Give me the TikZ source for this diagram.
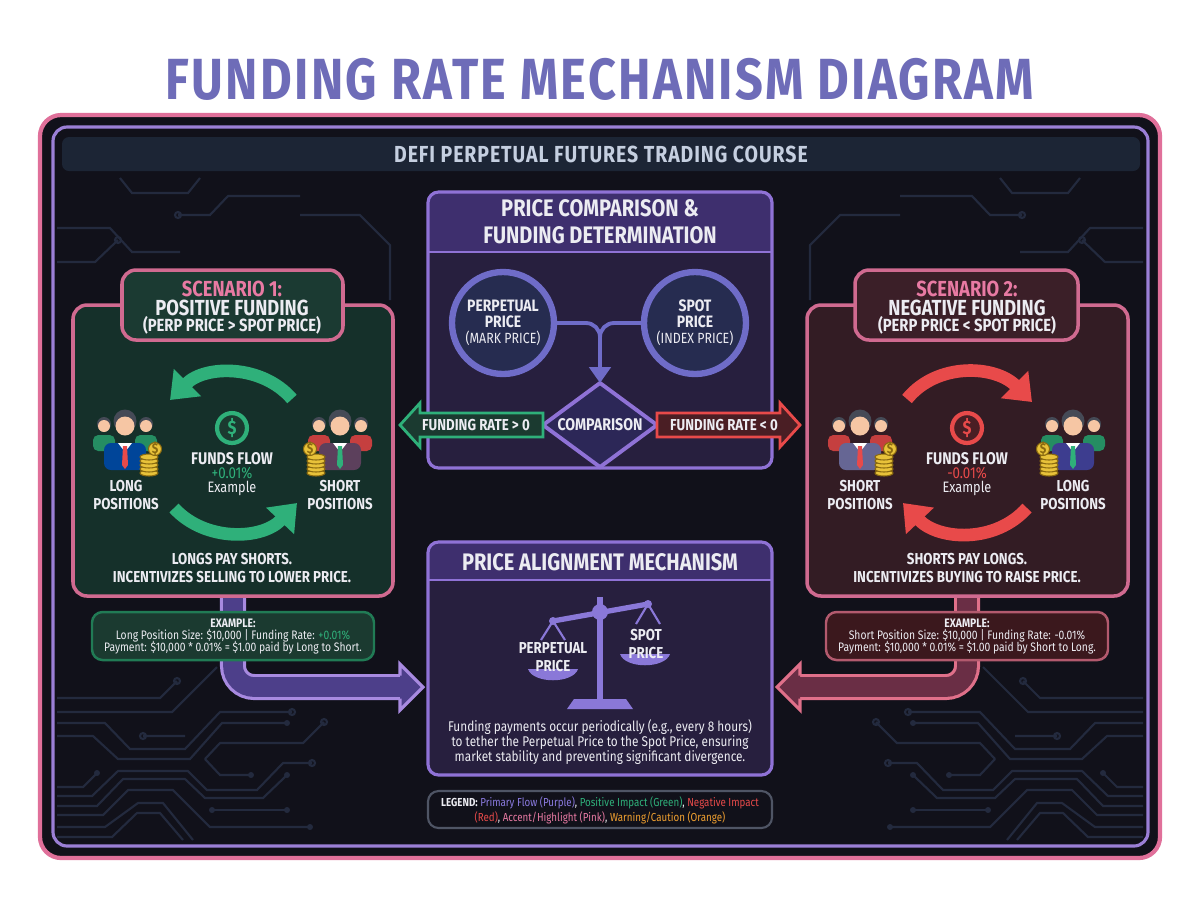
\documentclass[tikz,border=0pt]{standalone}
\usepackage{fontspec}
\setmainfont{Fira Sans}[FakeStretch=0.84]
\newfontfamily\titlefont{Fira Sans}[FakeStretch=0.84, LetterSpace=4]
\usetikzlibrary{arrows.meta}

\definecolor{frameink}{HTML}{11111A}
\definecolor{framepink}{HTML}{E0709A}
\definecolor{framepurple}{HTML}{9B7FD6}
\definecolor{barfill}{HTML}{1C2535}
\definecolor{bartext}{HTML}{C5CFE0}
\definecolor{titleblue}{HTML}{6E6CB8}
\definecolor{circuitline}{HTML}{232A3E}
\definecolor{cbhead}{HTML}{3E2F6E}
\definecolor{cbbody}{HTML}{271F3E}
\definecolor{cbline}{HTML}{8F72D6}
\definecolor{circfill}{HTML}{262C50}
\definecolor{circring}{HTML}{6F6CC8}
\definecolor{diafill}{HTML}{2C2757}
\definecolor{posgreen}{HTML}{2FB07A}
\definecolor{posfill}{HTML}{1B3A30}
\definecolor{negred}{HTML}{E84A4A}
\definecolor{negfill}{HTML}{4A1E24}
\definecolor{greenbg}{HTML}{15302A}
\definecolor{greentab}{HTML}{1B3A32}
\definecolor{redbg}{HTML}{331C24}
\definecolor{redtab}{HTML}{3B1F28}
\definecolor{accentpink}{HTML}{E87AA3}
\definecolor{boxpink}{HTML}{D06A90}
\definecolor{bandpurple}{HTML}{4D3F8A}
\definecolor{bandborder}{HTML}{A88AE0}
\definecolor{bandred}{HTML}{6A2E45}
\definecolor{bandredline}{HTML}{E0708A}
\definecolor{scalecol}{HTML}{8A78D8}
\definecolor{skin}{HTML}{F6C6A4}
\definecolor{hair}{HTML}{454A56}
\definecolor{coin}{HTML}{E8C23A}
\definecolor{coinedge}{HTML}{8A6A10}
\definecolor{offwhite}{HTML}{ECECF2}
\definecolor{legpurple}{HTML}{8A7AE0}
\definecolor{legorange}{HTML}{F0A030}

\tikzset{
  txt/.style={inner sep=0pt, text=offwhite, align=center},
  titletext/.style={inner sep=0pt, text=titleblue, font=\titlefont\fontsize{16.5}{16.5}\selectfont\bfseries},
  bartext/.style={txt, text=bartext, font=\titlefont\fontsize{6.6}{6.6}\selectfont\bfseries},
  headtext/.style={txt, font=\fontsize{6.8}{7.6}\selectfont\bfseries},
  scentitle/.style={txt, font=\fontsize{6.2}{6.2}\selectfont\bfseries},
  scensub/.style={txt, font=\fontsize{5}{5}\selectfont\bfseries},
  caps/.style={txt, font=\fontsize{4.5}{5.1}\selectfont\bfseries},
  small/.style={txt, font=\fontsize{3.5}{4.1}\selectfont},
  para/.style={txt, font=\fontsize{4}{4.15}\selectfont},
  pricecircle/.style={circle, draw=circring, line width=1.8pt, fill=circfill,
    minimum size=29pt, inner sep=0pt, align=center, text=offwhite,
    font=\fontsize{4.7}{4.5}\selectfont\bfseries},
  flowline/.style={draw=circring, line width=1.1pt},
  circuit/.style={draw=circuitline, line width=0.6pt},
  dollar/.style={circle, line width=1.2pt, minimum size=8.5pt, inner sep=0pt,
    font=\fontsize{5.5}{5.5}\selectfont\bfseries},
  bigarc/.style={line width=3.6pt, -{Triangle[length=7pt,width=10.5pt]}},
  band/.style={line width=0.9pt, double distance=5.6pt, rounded corners=6pt},
}

% eine Gruppe von Haendlern
\newcommand{\crowd}[6]{%
  \begin{scope}[shift={(#1,#2)}]
    \foreach \s in {-1,1} {
      \fill[#3, rounded corners=1.5pt] (\s*21-11,-8) rectangle (\s*21+11,8);
      \fill[hair] (\s*21,-19) circle (7);
      \fill[skin] (\s*21,-17) circle (6);
    }
    \fill[#4, rounded corners=2pt] (-21,0) rectangle (21,27);
    \fill[white] (-7,0) -- (7,0) -- (0,9) -- cycle;
    \fill[#5] (-2,3) -- (2,3) -- (3,22) -- (0,26) -- (-3,22) -- cycle;
    \fill[hair] (0,-22) circle (11.5);
    \fill[skin] (0,-17) circle (9.5);
    \foreach \k in {0,...,4}
      \filldraw[fill=coin, draw=coinedge, line width=0.3pt] ({#6*24},30-\k*4) ellipse (9 and 3);
    \filldraw[fill=coin, draw=coinedge, line width=0.3pt] ({#6*30},6) circle (6.5);
    \node[inner sep=0pt, text=coinedge, font=\fontsize{4}{4}\selectfont\bfseries] at ({#6*30},6) {\$};
  \end{scope}}

% Leiterbahnen
\newcommand{\circuitset}{%
  \draw[circuit] (57,698) -- (160,698) -- (177,681) circle (3);
  \draw[circuit] (57,712) -- (172,712) -- (217,667);
  \draw[circuit] (57,723) -- (105,723) -- (130,749) -- (185,749) -- (220,712) -- (292,712) circle (3);
  \draw[circuit] (57,736) -- (93,736) -- (118,759) -- (190,759) -- (222,723) -- (287,723);
  \fill[circuitline] (287,723) circle (3);
  \draw[circuit] (143,736) circle (3) -- (185,736);
  \draw[circuit] (205,759) -- (220,743) -- (303,743) -- (324,722) circle (3);
  \draw[circuit] (205,759) -- (220,775) -- (251,775);
  \fill[circuitline] (251,775) circle (3);
  \draw[circuit] (57,787) -- (83,787) -- (97,773);
  \fill[circuitline] (97,773) circle (3);
  \draw[circuit] (57,796) -- (92,796) -- (118,771) -- (188,771) -- (207,790) -- (257,790) -- (283,763) -- (312,763) circle (3);
  \draw[circuit] (57,806) -- (97,806) -- (123,779) -- (185,779) -- (205,798) -- (263,798) -- (287,775);
  \fill[circuitline] (287,775) circle (3);
  \draw[circuit] (57,815) -- (103,815) -- (128,790) -- (173,790) -- (210,827) -- (310,827);
  \fill[circuitline] (310,827) circle (3);
  \draw[circuit] (212,810) -- (287,810);
  \fill[circuitline] (212,810) circle (3) (287,810) circle (3);
  \draw[circuit] (57,827) -- (105,827) -- (138,803) -- (163,803) -- (193,840);
  \draw[circuit] (57,837) -- (112,837) -- (137,813) -- (160,813) -- (183,840);
  \draw[circuit] (120,178) -- (132,193) -- (188,193) -- (200,178);
  \draw[circuit] (178,215) circle (3) -- (210,215) -- (228,196) -- (300,196);
  \draw[circuit] (57,228) -- (110,228) -- (132,252) -- (180,252);
  \draw[circuit] (57,262) -- (95,262) -- (118,240) circle (3);
  \draw[circuit] (300,215) -- (360,215) -- (390,245) -- (390,300);}

\begin{document}
\begin{tikzpicture}[x=0.01cm, y=-0.01cm]
\useasboundingbox (0,0) rectangle (1200,896);
\fill[white] (0,0) rectangle (1200,896);

\node[titletext] (title) at (600,79) {FUNDING RATE MECHANISM DIAGRAM};

% Rahmen
\draw[fill=frameink, draw=framepink, line width=1.2pt, rounded corners=6pt] (40,115) rectangle (1160,858);
\draw[draw=framepurple, line width=0.9pt, rounded corners=4pt] (53,127) rectangle (1148,846);
\circuitset
\begin{scope}[shift={(1200,0)}, xscale=-1]
  \circuitset
\end{scope}
\fill[barfill, rounded corners=2pt] (62,137) rectangle (1140,171);
\node[bartext] (course) at (601,154) {DEFI PERPETUAL FUTURES TRADING COURSE};

% Preisvergleich
\fill[cbbody, rounded corners=3pt] (428,192) rectangle (772,468);
\fill[cbhead, rounded corners=3pt] (428,192) rectangle (772,262);
\fill[cbbody] (429,252) rectangle (771,270);
\draw[cbline, line width=0.8pt] (428,252) -- (772,252);
\draw[cbline, line width=0.9pt, rounded corners=3pt] (428,192) rectangle (772,468);
\node[headtext] (cmphead) at (600,222) {PRICE COMPARISON \&\\FUNDING DETERMINATION};

\node[pricecircle] (perp) at (503,323) {PERPETUAL\\PRICE\\{\mdseries\fontsize{4.2}{4.5}\selectfont (MARK PRICE)}};
\node[pricecircle] (spot) at (695,323) {SPOT\\PRICE\\{\mdseries\fontsize{4.2}{4.5}\selectfont (INDEX PRICE)}};

\coordinate (cmptop) at (600,383);
\draw[flowline, fill=diafill, draw=cbline] (cmptop) -- (657,425) -- (600,467) -- (543,425) -- cycle;
\node[caps, font=\fontsize{4.8}{4.8}\selectfont\bfseries] (cmp) at (600,425) {COMPARISON};
\draw[flowline, rounded corners=4pt, -{Triangle[length=4.5pt,width=6pt]}] (perp.east) -- (600,323) -- (cmptop);
\draw[flowline, rounded corners=4pt] (spot.west) -- (600,323) -- (600,340);

\draw[draw=posgreen, fill=posfill, line width=0.8pt] (543,413) -- (420,413) -- (420,403) -- (400,425) -- (420,447) -- (420,437) -- (543,437) -- cycle;
\node[caps] (posrate) at (476,425) {FUNDING RATE > 0};
\draw[draw=negred, fill=negfill, line width=0.8pt] (657,413) -- (780,413) -- (780,403) -- (800,425) -- (780,447) -- (780,437) -- (657,437) -- cycle;
\node[caps] (negrate) at (724,425) {FUNDING RATE < 0};

% Verbindungsbaender
\draw[band, draw=bandborder, double=bandpurple] (233,590) -- (233,687) -- (402,687);
\fill[bandpurple] (400,664) -- (423,687) -- (400,710) -- cycle;
\draw[bandborder, line width=0.9pt, line join=miter] (400,675.5) -- (400,664) -- (423,687) -- (400,710) -- (400,698.5);
\draw[band, draw=bandredline, double=bandred] (967,590) -- (967,687) -- (798,687);
\fill[bandred] (800,664) -- (777,687) -- (800,710) -- cycle;
\draw[bandredline, line width=0.9pt, line join=miter] (800,675.5) -- (800,664) -- (777,687) -- (800,710) -- (800,698.5);

% Szenario 1
\draw[fill=greenbg, draw=boxpink, line width=1pt, rounded corners=4pt] (73,305) rectangle (393,596);
\draw[fill=greentab, draw=boxpink, line width=1pt, rounded corners=4pt] (122,270) rectangle (343,340);
\node[scentitle, text=accentpink] (s1a) at (232,289) {SCENARIO 1:};
\node[scentitle] (s1b) at (232,308) {POSITIVE FUNDING};
\node[scensub] (s1c) at (232,325) {(PERP PRICE > SPOT PRICE)};

\draw[bigarc, posgreen] (292,399) .. controls (262,364) and (205,365) .. (170,400);
\draw[bigarc, posgreen] (174,508) .. controls (205,542) and (262,540) .. (297,503);
\node[dollar, draw=posgreen, fill=posfill, text=posgreen] (usd1) at (232,428) {\$};
\node[caps, font=\fontsize{4.8}{4.8}\selectfont\bfseries] (flow1) at (232,459) {FUNDS FLOW};
\node[caps, text=posgreen, font=\fontsize{4.5}{4.5}\selectfont] (pct1) at (232,473) {+0.01\%};
\node[small, font=\fontsize{4.3}{4.3}\selectfont] (ex1) at (232,488) {Example};

\crowd{125}{443}{posgreen!80!black}{blue!55!cyan!60!black}{negred}{1}
\crowd{340}{443}{negred!85!black}{violet!30!black!75}{posgreen}{-1}
\node[caps] (long1) at (126,495) {LONG\\POSITIONS};
\node[caps] (short1) at (340,495) {SHORT\\POSITIONS};
\node[caps] (note1) at (232,568) {LONGS PAY SHORTS.\\INCENTIVIZES SELLING TO LOWER PRICE.};

\draw[fill=posfill, draw=posgreen!70!black, line width=0.7pt, rounded corners=3pt] (92,612) rectangle (374,660);
\node[small, font=\fontsize{3.5}{4.1}\selectfont\bfseries] (exh1) at (233,623) {EXAMPLE:};
\node[small] (exa1) at (233,636) {Long Position Size: \$10,000 | Funding Rate: \textcolor{posgreen}{+0.01\%}};
\node[small] (exb1) at (233,648) {Payment: \$10,000 * 0.01\% = \$1.00 paid by Long to Short.};

% Szenario 2
\draw[fill=redbg, draw=boxpink, line width=1pt, rounded corners=4pt] (807,305) rectangle (1128,596);
\draw[fill=redtab, draw=boxpink, line width=1pt, rounded corners=4pt] (855,270) rectangle (1078,340);
\node[scentitle, text=accentpink] (s2a) at (967,289) {SCENARIO 2:};
\node[scentitle] (s2b) at (967,308) {NEGATIVE FUNDING};
\node[scensub] (s2c) at (967,325) {(PERP PRICE < SPOT PRICE)};

\draw[bigarc, negred] (907,399) .. controls (937,362) and (995,365) .. (1032,402);
\draw[bigarc, negred] (1027,508) .. controls (995,544) and (938,540) .. (903,503);
\node[dollar, draw=negred, fill=negfill, text=negred] (usd2) at (967,428) {\$};
\node[caps, font=\fontsize{4.8}{4.8}\selectfont\bfseries] (flow2) at (967,459) {FUNDS FLOW};
\node[caps, text=negred, font=\fontsize{4.5}{4.5}\selectfont] (pct2) at (967,473) {-0.01\%};
\node[small, font=\fontsize{4.3}{4.3}\selectfont] (ex2) at (967,488) {Example};

\crowd{860}{443}{negred!85!black}{black!70!blue!60}{negred}{1}
\crowd{1073}{443}{posgreen!80!black}{blue!40!gray!80!black}{posgreen}{-1}
\node[caps] (short2) at (860,495) {SHORT\\POSITIONS};
\node[caps] (long2) at (1073,495) {LONG\\POSITIONS};
\node[caps] (note2) at (967,568) {SHORTS PAY LONGS.\\INCENTIVIZES BUYING TO RAISE PRICE.};

\draw[fill=negfill!80!black, draw=bandredline!80!black, line width=0.7pt, rounded corners=3pt] (826,612) rectangle (1108,660);
\node[small, font=\fontsize{3.5}{4.1}\selectfont\bfseries] (exh2) at (967,623) {EXAMPLE:};
\node[small] (exa2) at (967,636) {Short Position Size: \$10,000 | Funding Rate: -0.01\%};
\node[small] (exb2) at (967,648) {Payment: \$10,000 * 0.01\% = \$1.00 paid by Short to Long.};

% Preisangleichung
\fill[cbbody, rounded corners=3pt] (428,542) rectangle (772,775);
\fill[cbhead, rounded corners=3pt] (428,542) rectangle (772,590);
\fill[cbbody] (429,580) rectangle (771,598);
\draw[cbline, line width=0.8pt] (428,580) -- (772,580);
\draw[cbline, line width=0.9pt, rounded corners=3pt] (428,542) rectangle (772,775);
\node[headtext] (alignhead) at (600,562) {PRICE ALIGNMENT MECHANISM};

% Waage
\fill[scalecol] (567,709) -- (574,699) -- (626,699) -- (633,709) -- cycle;
\fill[scalecol] (597,597) rectangle (603,700);
\draw[scalecol, line width=1.5pt] (553,621) -- (648,604);
\fill[scalecol] (600,612) circle (8) (553,621) circle (4) (648,604) circle (4);
\draw[scalecol, line width=0.6pt] (541,640) -- (553,621) -- (565,640);
\draw[scalecol, line width=0.6pt] (636,624) -- (648,604) -- (660,624);
\fill[scalecol] (528,669) .. controls (533,684) and (573,684) .. (578,669) -- cycle;
\fill[scalecol] (620,654) .. controls (625,669) and (665,669) .. (670,654) -- cycle;
\node[caps] (scaleL) at (553,657) {PERPETUAL\\PRICE};
\node[caps] (scaleR) at (646,644) {SPOT\\PRICE};

\node[para] (alignnote) at (600,742) {Funding payments occur periodically (e.g., every 8 hours)\\
  to tether the Perpetual Price to the Spot Price, ensuring\\
  market stability and preventing significant divergence.};

% Legende
\draw[draw=circuitline!80!white, line width=0.6pt, rounded corners=3pt] (428,791) rectangle (772,828);
\node[txt, font=\fontsize{3.3}{4.2}\selectfont] (legend) at (600,810) {\textbf{LEGEND:} \textcolor{legpurple}{Primary Flow (Purple)}, \textcolor{posgreen}{Positive Impact (Green)}, \textcolor{negred}{Negative Impact}\\
  \textcolor{negred}{(Red)}, \textcolor{accentpink}{Accent/Highlight (Pink)}, \textcolor{legorange}{Warning/Caution (Orange)}};
\end{tikzpicture}
\end{document}
